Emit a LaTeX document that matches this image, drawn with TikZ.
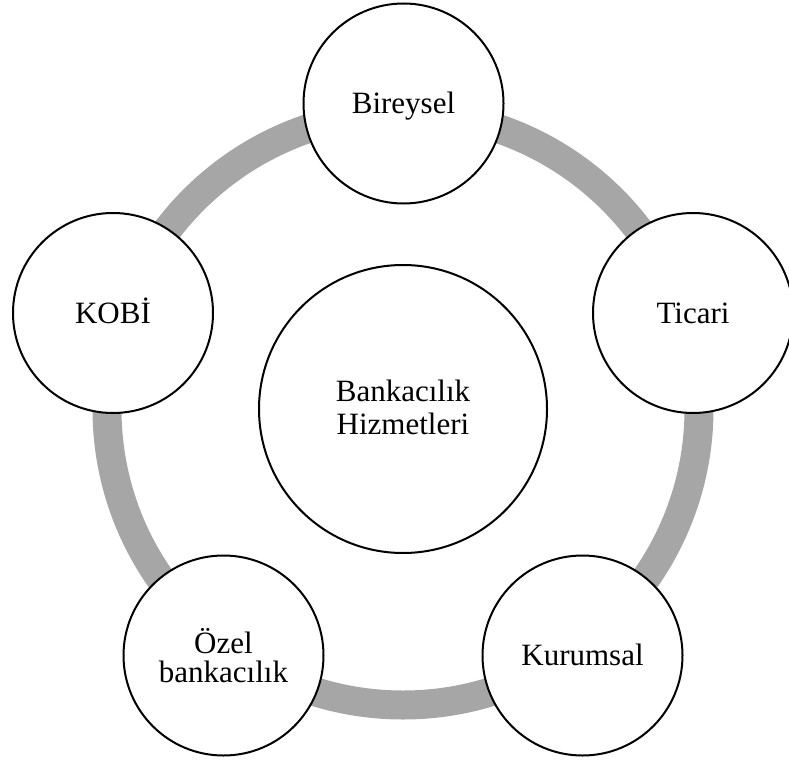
\documentclass[tikz,border=0pt]{standalone}
\usepackage{fontspec}
\setmainfont{Liberation Serif}
\definecolor{ringgray}{RGB}{166,166,166}
\begin{document}
\begin{tikzpicture}[x=1pt,y=-1pt,
  ring/.style={draw=ringgray,line width=29pt},
  sat/.style={circle,draw=black,line width=2pt,fill=white,minimum size=200pt,inner sep=0pt},
  hub/.style={circle,draw=black,line width=2pt,fill=white,minimum size=288pt,inner sep=0pt},
  lbl/.style={anchor=base,inner sep=0pt,font=\fontsize{31}{33}\selectfont}]
\useasboundingbox (0,0) rectangle (789,762);
\coordinate (o) at (403,409);
\draw[ring] (o) circle[radius=296pt];
\node[hub] (hub) at (o) {};
\node[sat] (bir) at (403.5,103.5) {};
\node[sat] (tic) at (693,313) {};
\node[sat] (kur) at (582.5,655.5) {};
\node[sat] (oze) at (223.5,655.5) {};
\node[sat] (kob) at (113,313) {};
\node[lbl] (hubt1) at ([yshift=8pt]hub.center) {Bankacılık};
\node[lbl] (hubt2) at ([yshift=-25pt]hub.center) {Hizmetleri};
\node[lbl] (birt) at ([yshift=-10pt]bir.center) {Bireysel};
\node[lbl] (tict) at ([yshift=-10pt]tic.center) {Ticari};
\node[lbl] (kurt) at ([yshift=-10pt]kur.center) {Kurumsal};
\node[lbl] (kobt) at ([yshift=-10pt]kob.center) {KOBİ};
\node[lbl] (ozet1) at ([yshift=2pt]oze.center) {Özel};
\node[lbl] (ozet2) at ([yshift=-27pt]oze.center) {bankacılık};
\end{tikzpicture}
\end{document}
